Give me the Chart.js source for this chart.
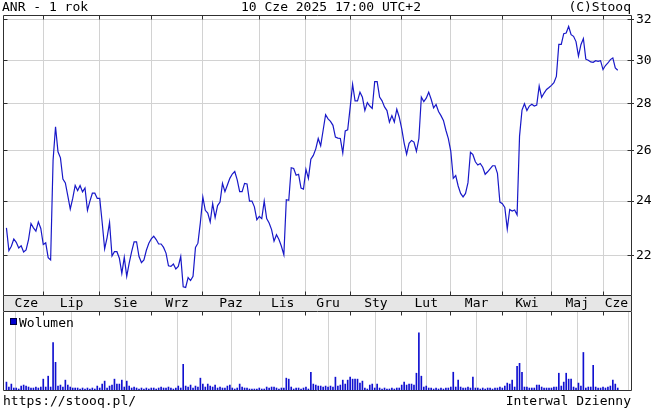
<!DOCTYPE html>
<html><head><meta charset="utf-8">
<script src="https://cdn.jsdelivr.net/npm/chart.js@4.4.1/dist/chart.umd.min.js"></script>
<style>
html,body{margin:0;padding:0;background:#fff;width:654px;height:411px;overflow:hidden;}
.t{position:absolute;z-index:3;font-family:"DejaVu Sans Mono",monospace;font-size:13px;line-height:14px;color:#000;white-space:pre;}
#c1{position:absolute;left:0;top:0;z-index:1;}
#c2{position:absolute;left:0;top:310px;z-index:1;}
#sq{position:absolute;z-index:3;left:10px;top:318px;width:7px;height:7px;box-sizing:border-box;background:#0000d0;border:1px solid #000040;}
</style></head><body>
<canvas id="c1" width="654" height="311"></canvas>
<canvas id="c2" width="654" height="81"></canvas>
<div class="t" style="left:2px;top:0px">ANR - 1 rok</div>
<div class="t" style="left:241px;top:0px">10 Cze 2025 17:00 UTC+2</div>
<div class="t" style="right:23px;top:0px">(C)Stooq</div>
<div id="sq"></div>
<div class="t" style="left:19px;top:316px">Wolumen</div>
<div class="t" style="left:3px;top:394px">https://stooq.pl/</div>
<div class="t" style="right:23px;top:394px">Interwal Dzienny</div>
<script>
// ---- data ----
const monthLabels = ['Cze','Lip','Sie','Wrz','Paz','Lis','Gru','Sty','Lut','Mar','Kwi','Maj','Cze'];
const monthStart  = [0,15,38,59,80,103,122,140,161,181,202,222,243]; // trading-day index of month start
const yTicks = [22,24,26,28,30,32];
const price = [
 23.0,22.19,22.34,22.6,22.48,22.28,22.36,22.14,22.21,22.58,23.16,23.0,22.88,23.22,22.98,22.4,22.46,21.94,21.86,25.6,27.0,
 25.95,25.7,24.85,24.7,24.2,23.7,24.1,24.6,24.4,24.6,24.35,24.5,23.65,24.0,24.3,24.3,24.1,24.1,23.2,22.25,
 22.65,23.2,22.0,22.15,22.15,21.92,21.4,21.95,21.3,21.75,22.15,22.5,22.5,21.98,21.77,21.86,22.2,22.45,22.6,22.7,
 22.58,22.42,22.42,22.3,22.1,21.66,21.64,21.72,21.55,21.64,21.98,20.95,20.93,21.26,21.16,21.3,22.3,22.45,23.2,24.15,
 23.65,23.55,23.22,23.9,23.38,23.83,23.96,24.68,24.36,24.62,24.88,25.05,25.15,24.82,24.36,24.36,24.68,24.66,24.0,24.0,
 23.78,23.3,23.42,23.34,24.0,23.34,23.18,22.94,22.52,22.75,22.58,22.34,22.04,24.05,24.03,25.3,25.27,25.0,25.04,24.5,
 24.46,25.24,24.88,25.65,25.8,26.07,26.5,26.2,26.85,27.52,27.34,27.23,27.06,26.56,26.52,26.5,25.9,26.82,26.87,27.83,
 28.88,28.13,28.13,28.52,28.29,27.7,28.05,27.9,27.79,29.0,29.0,28.3,28.13,27.86,27.7,27.2,27.48,27.2,27.76,27.41,
 26.92,26.31,25.85,26.3,26.42,26.35,25.97,26.5,28.3,28.1,28.25,28.52,28.2,27.82,27.97,27.66,27.48,27.27,26.85,26.5,
 25.97,24.88,24.99,24.58,24.29,24.16,24.29,24.71,25.93,25.83,25.54,25.41,25.47,25.32,25.04,25.14,25.26,25.38,25.38,25.08,
 23.96,23.9,23.76,22.96,23.68,23.62,23.66,23.48,26.6,27.72,28.0,27.7,27.9,27.98,27.9,27.94,28.8,28.29,28.48,28.64,
 28.73,28.83,28.95,29.24,30.76,30.76,31.29,31.32,31.65,31.24,31.16,30.9,30.2,30.75,31.05,30.05,30.0,29.92,29.9,29.98,
 29.95,29.98,29.56,29.75,29.87,30.03,30.11,29.64,29.53
];
const volume = [
 8,3,6,2,2,1,4,5,4,3,2,2,3,2,3,11,3,14,3,48,28,
 4,5,3,10,5,3,2,2,2,1,2,1,2,1,2,1,4,2,6,9,
 2,4,5,11,6,6,10,3,9,4,2,3,2,1,2,1,2,1,2,2,
 1,2,3,2,2,3,2,1,2,4,2,26,4,3,5,2,4,3,12,6,
 3,6,4,3,5,2,3,2,2,4,5,2,1,2,6,3,2,2,1,1,
 1,1,2,1,1,3,2,3,3,2,1,2,2,12,11,3,1,2,2,1,
 2,3,1,18,6,5,4,4,3,4,3,4,3,13,4,5,10,6,10,13,
 11,11,11,7,9,2,1,5,6,2,6,2,1,2,1,1,2,1,2,2,
 5,8,5,6,6,5,17,58,14,3,4,2,2,1,2,1,2,1,2,2,
 3,18,3,10,3,2,2,3,2,13,2,2,1,2,1,2,2,1,2,2,
 3,2,4,7,6,10,3,24,27,18,3,3,2,2,2,5,5,3,2,2,
 2,2,3,3,17,4,8,17,11,11,3,2,7,4,38,2,3,3,25,3,
 2,2,3,2,3,4,10,6,2
];
const X_MIN = -1.4, X_MAX = 254.4;
const Y_MIN = 20.68, Y_MAX = 32.23;
const VOL_MAX = 80;

// ---- helpers ----
const FONT = {family:'"DejaVu Sans Mono", monospace', size:13};
const al = p => Math.round(p - 0.5) + 0.5;
function monthTicks(){
  const t = [];
  monthStart.forEach((m,i)=>{ if(i>0) t.push({value:m, lbl:''}); });
  monthStart.forEach((m,i)=>{
    const a = i===0 ? 0 : m;
    const b = i<monthStart.length-1 ? monthStart[i+1] : X_MAX - 0.5;
    t.push({value:(a+b)/2 + (i===0?0.6:0), lbl:monthLabels[i]});
  });
  return t;
}
const gridCol = '#d2d2d2';
const frameCol = '#303030';

const framePlugin1 = {
  id:'frame1',
  beforeDraw(chart){
    const {ctx, chartArea:a} = chart;
    ctx.save();
    ctx.fillStyle='#fff'; ctx.fillRect(0,0,chart.width,chart.height);
    ctx.fillStyle='#e6e6e6';
    ctx.fillRect(a.left, a.bottom, a.right-a.left, chart.height-a.bottom);
    ctx.restore();
  },
  afterDraw(chart){
    const {ctx, chartArea:a, scales:{x,y}} = chart;
    ctx.save();
    ctx.strokeStyle=frameCol; ctx.lineWidth=1;
    const L=al(a.left), R=al(a.right), T=al(a.top), B=al(a.bottom);
    ctx.beginPath();
    ctx.rect(L,T,R-L,B-T);
    ctx.moveTo(L,B); ctx.lineTo(L,chart.height); ctx.moveTo(R,B); ctx.lineTo(R,chart.height);
    monthStart.slice(1).forEach(m=>{
      const px = al(x.getPixelForValue(m));
      ctx.moveTo(px,T); ctx.lineTo(px,T+4);
      ctx.moveTo(px,B); ctx.lineTo(px,B-4);
    });
    yTicks.forEach(v=>{
      const py = al(y.getPixelForValue(v));
      ctx.moveTo(L,py); ctx.lineTo(L+4,py);
      ctx.moveTo(R,py); ctx.lineTo(R-4,py);
    });
    ctx.stroke();
    ctx.restore();
  }
};
const framePlugin2 = {
  id:'frame2',
  afterDraw(chart){
    const {ctx, chartArea:a, scales:{x}} = chart;
    ctx.save();
    ctx.strokeStyle=frameCol; ctx.lineWidth=1;
    const L=al(a.left), R=al(a.right), T=al(a.top), B=al(a.bottom);
    ctx.beginPath();
    ctx.rect(L,T,R-L,B-T);
    monthStart.slice(1).forEach(m=>{
      const px = al(x.getPixelForValue(m));
      ctx.moveTo(px,T); ctx.lineTo(px,T+4);
    });
    ctx.stroke();
    ctx.restore();
  }
};

new Chart(document.getElementById('c1'), {
  type:'line',
  data:{datasets:[{
    label:'ANR',
    data: price.map((v,i)=>({x:i,y:v})),
    borderColor:'#1818c8', borderWidth:1.2, pointRadius:0, tension:0, fill:false
  }]},
  options:{
    responsive:false, animation:false, devicePixelRatio:1,
    layout:{padding:{left:3,top:15,right:0,bottom:0}},
    plugins:{legend:{display:false}, tooltip:{enabled:false}},
    scales:{
      x:{
        type:'linear', position:'bottom', min:X_MIN, max:X_MAX,
        afterBuildTicks(s){ s.ticks = monthTicks(); },
        afterFit(s){ s.height = 16; },
        border:{display:false},
        grid:{drawTicks:false, lineWidth:1, color:(c)=> (c.tick && c.tick.lbl) ? 'rgba(0,0,0,0)' : gridCol},
        ticks:{autoSkip:false, maxRotation:0, minRotation:0, padding:1, font:FONT, color:'#000',
          callback:function(v,i,t){ return t[i].lbl || ''; }}
      },
      y:{
        type:'logarithmic', position:'right', min:Y_MIN, max:Y_MAX,
        afterBuildTicks(s){ s.ticks = yTicks.map(v=>({value:v})); },
        afterFit(s){ s.width = 23; },
        border:{display:false},
        grid:{color:gridCol, lineWidth:1, drawTicks:true, tickLength:3, tickColor:frameCol},
        ticks:{padding:2, font:FONT, color:'#000', callback:(v)=>String(v)}
      }
    }
  },
  plugins:[framePlugin1]
});

new Chart(document.getElementById('c2'), {
  type:'bar',
  data:{datasets:[{
    label:'Wolumen',
    data: volume.map((v,i)=>({x:i,y:v})),
    backgroundColor:'#1010d0', borderWidth:0, barThickness:1
  }]},
  options:{
    responsive:false, animation:false, devicePixelRatio:1,
    layout:{padding:{left:3,top:1,right:23,bottom:1}},
    plugins:{legend:{display:false}, tooltip:{enabled:false}},
    scales:{
      x:{
        type:'linear', min:X_MIN, max:X_MAX, offset:false,
        afterBuildTicks(s){ s.ticks = monthStart.slice(1).map(v=>({value:v})); },
        afterFit(s){ s.height = 0; },
        border:{display:false},
        grid:{drawTicks:false, color:gridCol, lineWidth:1},
        ticks:{display:false}
      },
      y:{ display:false, min:0, max:VOL_MAX }
    }
  },
  plugins:[framePlugin2]
});
</script>
</body></html>
